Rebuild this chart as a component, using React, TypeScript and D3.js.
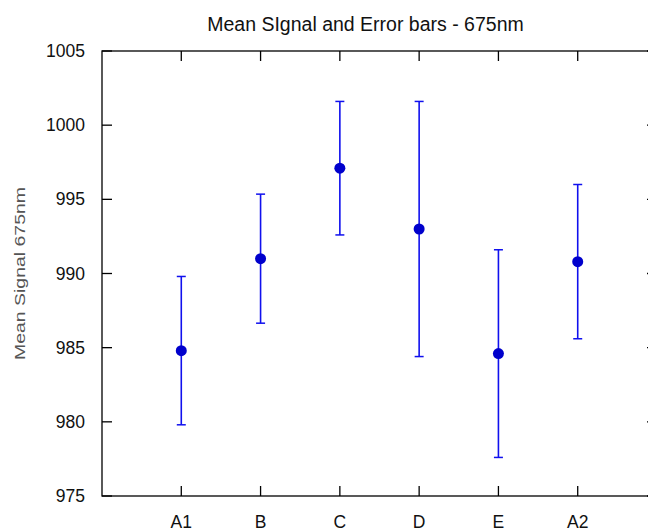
import React, { useRef, useEffect } from 'react';
import * as d3 from 'd3';

const categories = ['A1', 'B', 'C', 'D', 'E', 'A2'];
const means = [984.8, 991.0, 997.1, 993.0, 984.6, 990.8];
const errors = [5.0, 4.35, 4.5, 8.6, 7.0, 5.2];
const yTicks = [975, 980, 985, 990, 995, 1000, 1005];

const App = () => {
    const ref = useRef<SVGSVGElement>(null);

    useEffect(() => {
        const svg = d3.select(ref.current);
        svg.selectAll('*').remove();

        const font = '"Liberation Sans", Arial, sans-serif';
        const left = 102, right = 657, top = 51, bottom = 496;

        // x positions 1..6, border at 0 and 7 (right border falls off the canvas)
        const xScale = d3.scaleLinear().domain([0, 7]).range([left, right]);
        const yScale = d3.scaleLinear().domain([975, 1005]).range([bottom, top]);

        const g = svg.append('g');

        // --- border ---
        g.append('rect')
            .attr('x', left).attr('y', top)
            .attr('width', right - left).attr('height', bottom - top)
            .attr('fill', 'none').attr('stroke', '#000').attr('stroke-width', 1.3);

        // --- y ticks, mirrored on the right ---
        yTicks.forEach(t => {
            const y = yScale(t);
            g.append('line').attr('x1', left).attr('x2', left + 10).attr('y1', y).attr('y2', y)
                .attr('stroke', '#000').attr('stroke-width', 1.3);
            g.append('line').attr('x1', right - 10).attr('x2', right).attr('y1', y).attr('y2', y)
                .attr('stroke', '#000').attr('stroke-width', 1.3);
            g.append('text')
                .attr('x', 85).attr('y', y).attr('dy', '0.35em')
                .attr('text-anchor', 'end')
                .style('font-family', font).style('font-size', '17.5px').attr('fill', '#111')
                .text(t);
        });

        // --- x ticks, top and bottom ---
        categories.forEach((c, i) => {
            const x = xScale(i + 1);
            g.append('line').attr('x1', x).attr('x2', x).attr('y1', bottom).attr('y2', bottom - 10)
                .attr('stroke', '#000').attr('stroke-width', 1.3);
            g.append('line').attr('x1', x).attr('x2', x).attr('y1', top).attr('y2', top + 10)
                .attr('stroke', '#000').attr('stroke-width', 1.3);
            g.append('text')
                .attr('x', x).attr('y', 528)
                .attr('text-anchor', 'middle')
                .style('font-family', font).style('font-size', '17.5px').attr('fill', '#111')
                .text(c);
        });

        // --- error bars ---
        const bars = g.selectAll('g.bar')
            .data(categories.map((c, i) => ({ c, i, m: means[i], e: errors[i] })))
            .enter().append('g').attr('class', 'bar');

        bars.append('line')
            .attr('x1', d => xScale(d.i + 1)).attr('x2', d => xScale(d.i + 1))
            .attr('y1', d => yScale(d.m - d.e)).attr('y2', d => yScale(d.m + d.e))
            .attr('stroke', '#1010ee').attr('stroke-width', 1.6);
        [1, -1].forEach(s => {
            bars.append('line')
                .attr('x1', d => xScale(d.i + 1) - 4.5).attr('x2', d => xScale(d.i + 1) + 4.5)
                .attr('y1', d => yScale(d.m + s * d.e)).attr('y2', d => yScale(d.m + s * d.e))
                .attr('stroke', '#1010ee').attr('stroke-width', 1.5);
        });
        bars.append('circle')
            .attr('cx', d => xScale(d.i + 1))
            .attr('cy', d => yScale(d.m))
            .attr('r', 5.5)
            .attr('fill', '#0000cc');

        // --- title and axis label ---
        svg.append('text')
            .attr('x', 365.5).attr('y', 30.5)
            .attr('text-anchor', 'middle')
            .style('font-family', font).style('font-size', '19.5px').attr('fill', '#111')
            .text('Mean SIgnal and Error bars - 675nm');

        svg.append('text')
            .attr('transform', 'translate(25,273.5) rotate(-90)')
            .attr('text-anchor', 'middle')
            .attr('textLength', 173).attr('lengthAdjust', 'spacingAndGlyphs')
            .style('font-family', font).style('font-size', '14px').attr('fill', '#555')
            .text('Mean Signal 675nm');
    }, []);

    return (
        <svg ref={ref} width={648} height={531}
            style={{ position: 'absolute', left: 0, top: 0, background: '#fff' }}></svg>
    );
};

export default App;
